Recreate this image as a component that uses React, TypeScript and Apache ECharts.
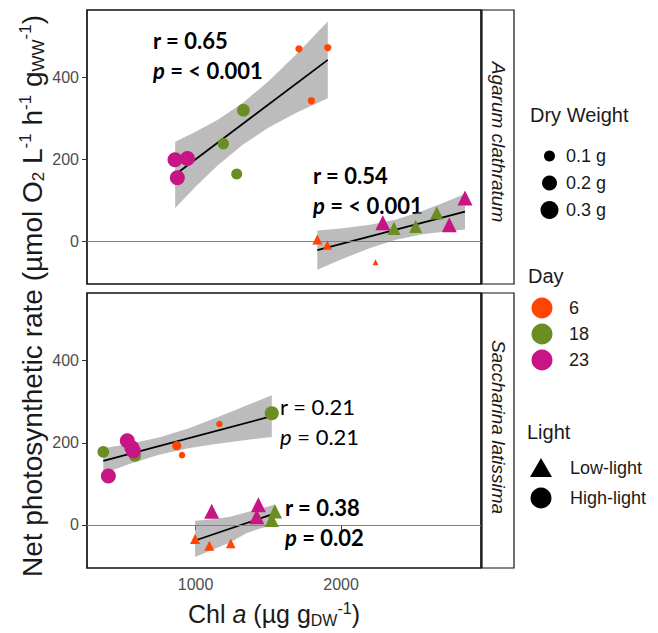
import React, { useEffect, useRef } from "react";
import * as echarts from "echarts";

// ---------- data ----------
const dayLevels = [6, 18, 23];
const dayColorList = ["#FF4500", "#6B8E23", "#C71585"];
const dryWeightLevels = [0.1, 0.2, 0.3];
const xTicks = [1000, 2000];
const yTicks = [0, 200, 400];

// Agarum clathratum – high-light (circles)
const agHighX = [1711, 1909, 1796, 1329, 1191, 1283, 859, 944, 875];
const agHighY = [470, 473, 343, 320, 238, 164, 199, 202, 155];
const agHighDay = [6, 6, 6, 18, 18, 18, 23, 23, 23];
const agHighDW = [0.03, 0.03, 0.03, 0.15, 0.12, 0.11, 0.2, 0.2, 0.2];
// Agarum clathratum – low-light (triangles)
const agLowX = [1837, 1906, 2237, 2287, 2852, 2744, 2364, 2513, 2658];
const agLowY = [4, -10, -52, 45, 105, 40, 31, 36, 69];
const agLowDay = [6, 6, 6, 23, 23, 23, 18, 18, 18];
const agLowDW = [0.09, 0.07, 0.0, 0.2, 0.2, 0.2, 0.16, 0.16, 0.16];
// Saccharina latissima – high-light (circles)
const saHighX = [366, 1524, 584, 531, 562, 573, 401, 871, 1164, 907];
const saHighY = [178, 272, 168, 205, 188, 180, 119, 193, 246, 170];
const saHighDay = [18, 18, 18, 23, 23, 23, 23, 6, 6, 6];
const saHighDW = [0.13, 0.18, 0.13, 0.2, 0.2, 0.2, 0.2, 0.07, 0.01, 0.01];
// Saccharina latissima – low-light (triangles)
const saLowX = [1111, 1432, 1421, 1546, 1524, 997, 1095, 1242];
const saLowY = [33, 49, 20, 33, 12, -34, -51, -45];
const saLowDay = [23, 23, 23, 18, 18, 6, 6, 6];
const saLowDW = [0.2, 0.2, 0.2, 0.18, 0.18, 0.09, 0.09, 0.08];

// fitted lines and confidence bands
const agHighFitX = [859, 1909];
const agHighFitY = [162, 443];
const agHighBandX = [860, 1000, 1150, 1322, 1500, 1700, 1909];
const agHighBandLo = [81, 133, 184, 235, 277, 315, 349];
const agHighBandHi = [243, 267, 296, 337, 390, 459, 537];

const agLowFitX = [1837, 2852];
const agLowFitY = [-22, 72];
const agLowBandX = [1837, 2000, 2200, 2378, 2550, 2700, 2852];
const agLowBandLo = [-70, -45, -17, 3, 16, 23, 28];
const agLowBandHi = [26, 31, 40, 53, 72, 93, 115];

const saHighFitX = [366, 1524];
const saHighFitY = [156, 265];
const saHighBandX = [366, 550, 748, 950, 1150, 1350, 1524];
const saHighBandLo = [125, 149, 171, 187, 198, 207, 214];
const saHighBandHi = [187, 198, 213, 235, 262, 291, 316];

const saLowFitX = [997, 1546];
const saLowFitY = [-38, 28];
const saLowBandX = [997, 1120, 1237, 1352, 1450, 1546];
const saLowBandLo = [-78, -60, -43, -20, -8, 0];
const saLowBandHi = [10, 14, 20, 31, 40, 50];

// ---------- helpers ----------
const FONT = "'Liberation Sans', Arial, sans-serif";
const ANNOT_FONT = "Lato, 'Open Sans', sans-serif";
const sizeOf = (dw: number) => 6 + 45 * dw;
const colorOf = (day: number) => dayColorList[dayLevels.indexOf(day)];

function pointSeries(xs: number[], ys: number[], days: number[], dws: number[], symbol: string, idx: number) {
  return {
    type: "scatter",
    xAxisIndex: idx,
    yAxisIndex: idx,
    symbol,
    z: 5,
    silent: true,
    data: xs.map((x, i) => ({
      value: [x, ys[i]],
      symbolSize: sizeOf(dws[i]),
      itemStyle: { color: colorOf(days[i]), opacity: 1 },
    })),
  };
}

function bandSeries(xs: number[], lo: number[], hi: number[], idx: number) {
  return {
    type: "custom",
    xAxisIndex: idx,
    yAxisIndex: idx,
    silent: true,
    z: 2,
    data: xs.map((x, i) => [x, lo[i], hi[i]]),
    encode: { x: 0, y: [1, 2] },
    renderItem: (params: any, api: any) => {
      if (params.dataIndex !== 0) return null;
      const top = xs.map((x, i) => api.coord([x, hi[i]]));
      const bot = xs.map((x, i) => api.coord([x, lo[i]])).reverse();
      return {
        type: "polygon",
        shape: { points: top.concat(bot) },
        style: { fill: "rgba(140,140,140,0.58)" },
      };
    },
  };
}

function fitSeries(xs: number[], ys: number[], idx: number) {
  return {
    type: "line",
    xAxisIndex: idx,
    yAxisIndex: idx,
    silent: true,
    z: 4,
    symbol: "none",
    lineStyle: { color: "#000", width: 1.8 },
    data: xs.map((x, i) => [x, ys[i]]),
  };
}

function zeroLine(idx: number) {
  return {
    type: "line",
    xAxisIndex: idx,
    yAxisIndex: idx,
    data: [],
    silent: true,
    z: 1,
    markLine: {
      silent: true,
      symbol: "none",
      label: { show: false },
      lineStyle: { color: "#808080", width: 1.1, type: "solid" },
      data: [{ yAxis: 0 }],
    },
  };
}

function xAxisCfg(idx: number, showLabels: boolean) {
  return {
    type: "value",
    gridIndex: idx,
    min: 254,
    max: 2962,
    axisLine: { show: false },
    splitLine: { show: false },
    axisTick: { show: showLabels, length: 5, lineStyle: { color: "#333", width: 1 }, customValues: xTicks },
    axisLabel: {
      show: showLabels,
      fontSize: 16,
      color: "#4d4d4d",
      fontFamily: FONT,
      margin: 8,
      customValues: xTicks,
      formatter: (v: number) => String(v),
    },
  };
}

function yAxisCfg(idx: number) {
  return {
    type: "value",
    gridIndex: idx,
    min: -105,
    max: 565,
    axisLine: { show: false },
    splitLine: { show: false },
    axisTick: { show: true, length: 5, lineStyle: { color: "#333", width: 1 }, customValues: yTicks },
    axisLabel: {
      fontSize: 16,
      color: "#4d4d4d",
      fontFamily: FONT,
      margin: 8,
      customValues: yTicks,
      formatter: (v: number) => String(v),
    },
  };
}

function annot(x: number, y: number, r: string, p: string, bold: boolean) {
  const w = bold ? "bold" : "normal";
  return {
    type: "text",
    x,
    y,
    silent: true,
    style: {
      text: `{n|r = ${r}}\n{i|p}{n| = ${p}}`,
      rich: {
        n: { fontSize: 22, fontWeight: w, fontFamily: ANNOT_FONT, fill: "#000", lineHeight: 30 },
        i: { fontSize: 22, fontWeight: w, fontStyle: "italic", fontFamily: ANNOT_FONT, fill: "#000", lineHeight: 30 },
      },
    },
  };
}

const txt = (x: number, y: number, text: string, size = 18, extra: any = {}) => ({
  type: "text",
  x,
  y,
  silent: true,
  style: { text, fontSize: size, fontFamily: FONT, fill: "#1a1a1a", verticalAlign: "middle", ...extra },
});

export default function App() {
  const ref = useRef<HTMLDivElement>(null);
  useEffect(() => {
    if (!ref.current) return;
    document.body.style.margin = "0";
    const chart = echarts.init(ref.current, null, { renderer: "svg" });

    const mkRich = (fs: number, ss: number, lh: number) => ({
      t: { fontSize: fs, fontFamily: FONT, fill: "#1a1a1a", lineHeight: lh },
      it: { fontSize: fs, fontFamily: FONT, fill: "#1a1a1a", lineHeight: lh, fontStyle: "italic" },
      sb: { fontSize: ss, fontFamily: FONT, fill: "#1a1a1a", lineHeight: ss, verticalAlign: "bottom" },
      sp: { fontSize: ss, fontFamily: FONT, fill: "#1a1a1a", lineHeight: ss, verticalAlign: "top" },
    });

    const legendGraphics: any[] = [];
    // Dry weight legend
    legendGraphics.push(txt(530, 115, "Dry Weight", 20));
    const dwY = [156, 183, 210];
    dryWeightLevels.forEach((dw, i) => {
      legendGraphics.push({
        type: "circle",
        silent: true,
        shape: { cx: 549.5, cy: dwY[i], r: [5.5, 7.5, 9][i] },
        style: { fill: "#000" },
      });
      legendGraphics.push(txt(566, dwY[i], `${dw} g`));
    });
    // Day legend
    legendGraphics.push(txt(528, 276, "Day", 20));
    const dayY = [308, 334, 360];
    dayLevels.forEach((d, i) => {
      legendGraphics.push({
        type: "circle",
        silent: true,
        shape: { cx: 542, cy: dayY[i], r: 10.5 },
        style: { fill: dayColorList[i] },
      });
      legendGraphics.push(txt(569, dayY[i], String(d)));
    });
    // Light legend
    legendGraphics.push(txt(527, 432, "Light", 20));
    legendGraphics.push({
      type: "polygon",
      silent: true,
      shape: { points: [[541, 458], [552, 477], [530, 477]] },
      style: { fill: "#000" },
    });
    legendGraphics.push(txt(570, 468, "Low-light"));
    legendGraphics.push({
      type: "circle",
      silent: true,
      shape: { cx: 541, cy: 498, r: 10.5 },
      style: { fill: "#000" },
    });
    legendGraphics.push(txt(570, 498, "High-light"));

    const option: any = {
      animation: false,
      backgroundColor: "#fff",
      grid: [
        { left: 87, top: 10, width: 394, height: 274, show: true, borderColor: "#111", borderWidth: 1.7, backgroundColor: "transparent" },
        { left: 87, top: 293, width: 394, height: 275, show: true, borderColor: "#111", borderWidth: 1.7, backgroundColor: "transparent" },
      ],
      xAxis: [xAxisCfg(0, false), xAxisCfg(1, true)],
      yAxis: [yAxisCfg(0), yAxisCfg(1)],
      series: [
        zeroLine(0),
        zeroLine(1),
        bandSeries(agHighBandX, agHighBandLo, agHighBandHi, 0),
        bandSeries(agLowBandX, agLowBandLo, agLowBandHi, 0),
        bandSeries(saHighBandX, saHighBandLo, saHighBandHi, 1),
        bandSeries(saLowBandX, saLowBandLo, saLowBandHi, 1),
        fitSeries(agHighFitX, agHighFitY, 0),
        fitSeries(agLowFitX, agLowFitY, 0),
        fitSeries(saHighFitX, saHighFitY, 1),
        fitSeries(saLowFitX, saLowFitY, 1),
        pointSeries(agHighX, agHighY, agHighDay, agHighDW, "circle", 0),
        pointSeries(agLowX, agLowY, agLowDay, agLowDW, "triangle", 0),
        pointSeries(saHighX, saHighY, saHighDay, saHighDW, "circle", 1),
        pointSeries(saLowX, saLowY, saLowDay, saLowDW, "triangle", 1),
      ],
      graphic: [
        // strips
        { type: "rect", silent: true, shape: { x: 482, y: 10, width: 32, height: 274 }, style: { fill: "#fff", stroke: "#111", lineWidth: 1.2 } },
        { type: "rect", silent: true, shape: { x: 482, y: 293, width: 32, height: 275 }, style: { fill: "#fff", stroke: "#111", lineWidth: 1.2 } },
        {
          type: "text", silent: true, x: 498, y: 142, rotation: -Math.PI / 2,
          style: { text: "Agarum clathratum", fontSize: 19, fontStyle: "italic", fontFamily: FONT, fill: "#1a1a1a", align: "center", verticalAlign: "middle" },
        },
        {
          type: "text", silent: true, x: 498, y: 427, rotation: -Math.PI / 2,
          style: { text: "Saccharina latissima", fontSize: 19, fontStyle: "italic", fontFamily: FONT, fill: "#1a1a1a", align: "center", verticalAlign: "middle" },
        },
        // annotations
        annot(153, 25, "0.65", "< 0.001", true),
        annot(313, 160, "0.54", "< 0.001", true),
        annot(280, 391, "0.21", "0.21", false),
        annot(285, 492, "0.38", "0.02", true),
        // axis titles
        {
          type: "text", silent: true, x: 32, y: 296, rotation: Math.PI / 2,
          style: {
            text: "{t|Net photosynthetic rate (µmol O}{sb|2}{t| L}{sp|-1}{t| h}{sp|-1}{t| g}{sb|WW}{sp|-1}{t|)}",
            rich: mkRich(28, 17, 30), align: "center", verticalAlign: "middle",
          },
        },
        {
          type: "text", silent: true, x: 274, y: 614,
          style: {
            text: "{t|Chl }{it|a}{t| (µg g}{sb|DW}{sp|-1}{t|)}",
            rich: mkRich(25, 16, 28), align: "center", verticalAlign: "middle",
          },
        },
        ...legendGraphics,
      ],
    };
    chart.setOption(option);
    return () => chart.dispose();
  }, []);
  return <div ref={ref} style={{ width: 658, height: 633 }} />;
}
